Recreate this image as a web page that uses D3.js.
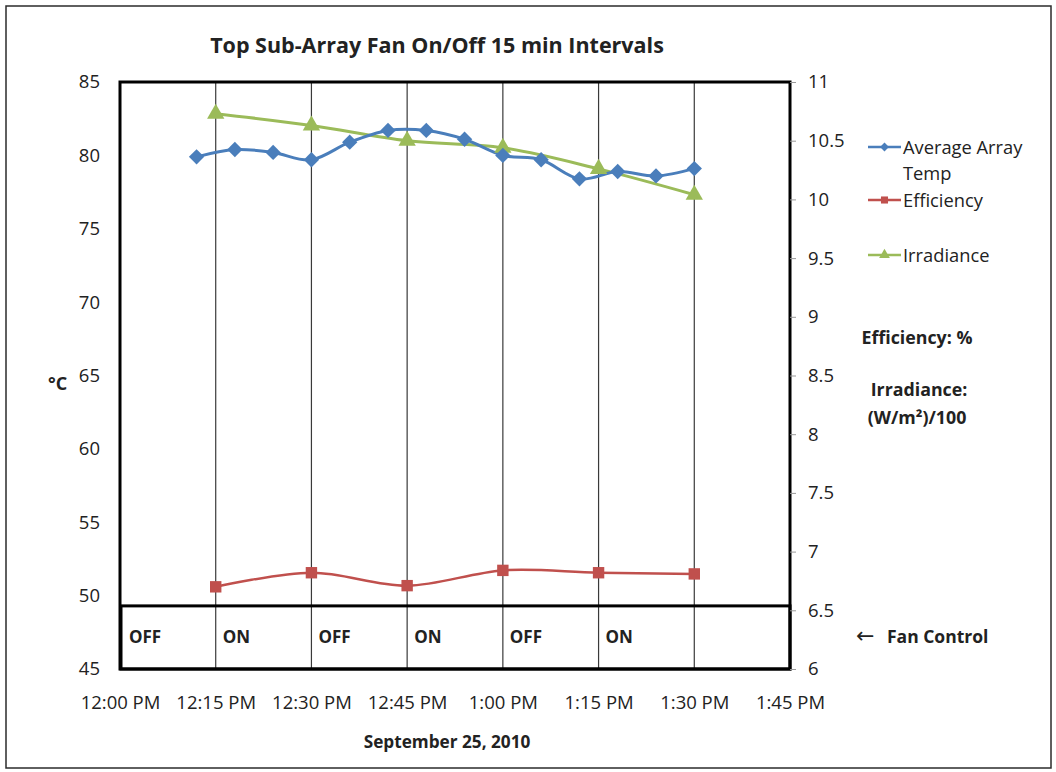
<!DOCTYPE html>
<html>
<head>
<meta charset="utf-8">
<script src="https://cdn.jsdelivr.net/npm/d3@7/dist/d3.min.js"></script>
<style>
  html, body { margin: 0; padding: 0; background: #fff; }
  svg text { font-family: "Open Sans", sans-serif; fill: #222; }
</style>
</head>
<body>
<svg id="chart" width="1056" height="772"></svg>
<script>
// ---- data -------------------------------------------------------------
const tempTimes = ["12:12", "12:18", "12:24", "12:30", "12:36", "12:42", "12:48",
                   "12:54", "13:00", "13:06", "13:12", "13:18", "13:24", "13:30"];
const tempValues = [79.9, 80.4, 80.2, 79.7, 80.9, 81.7, 81.7,
                    81.1, 80.0, 79.7, 78.4, 78.9, 78.6, 79.1];

const hourlyTimes = ["12:15", "12:30", "12:45", "13:00", "13:15", "13:30"];
const efficiencyValues = [6.70, 6.82, 6.71, 6.84, 6.82, 6.81];
const irradianceValues = [10.73, 10.63, 10.50, 10.44, 10.26, 10.04];

const xTickTimes = ["12:00", "12:15", "12:30", "12:45", "13:00", "13:15", "13:30", "13:45"];
const xTickLabels = ["12:00 PM", "12:15 PM", "12:30 PM", "12:45 PM", "1:00 PM", "1:15 PM", "1:30 PM", "1:45 PM"];
const leftTicks = [45, 50, 55, 60, 65, 70, 75, 80, 85];
const rightTicks = [6, 6.5, 7, 7.5, 8, 8.5, 9, 9.5, 10, 10.5, 11];

// fan control periods (start time, state)
const fanStarts = ["12:00", "12:15", "12:30", "12:45", "13:00", "13:15"];
const fanStates = ["OFF", "ON", "OFF", "ON", "OFF", "ON"];
const fanBandTop = 49.3;   // top of the fan-control band, in °C units

const seriesNames = ["Average Array Temp", "Efficiency", "Irradiance"];
const seriesColors = ["#4A7EBB", "#C0504D", "#9BBB59"];

// ---- helpers ----------------------------------------------------------
const t = s => { const [h, m] = s.split(":").map(Number); return new Date(2010, 8, 25, h, m); };

const svg = d3.select("#chart");

const plot = { left: 120, right: 790, top: 82, bottom: 669 };

const x = d3.scaleTime().domain([t("12:00"), t("13:45")]).range([plot.left, plot.right]);
const yL = d3.scaleLinear().domain([45, 85]).range([plot.bottom, plot.top]);
const yR = d3.scaleLinear().domain([6, 11]).range([plot.bottom, plot.top]);

// outer frame
svg.append("rect").attr("x", 6).attr("y", 6).attr("width", 1045).attr("height", 762)
  .attr("fill", "none").attr("stroke", "#2b2b2b").attr("stroke-width", 1.5);

// title
svg.append("text").attr("x", 437).attr("y", 53).attr("text-anchor", "middle")
  .style("font-weight", "bold").style("font-size", "21.5px")
  .text("Top Sub-Array Fan On/Off 15 min Intervals");

// vertical grid lines at each 15 min
svg.append("g").selectAll("line").data(xTickTimes.slice(1, -1)).join("line")
  .attr("x1", d => x(t(d))).attr("x2", d => x(t(d)))
  .attr("y1", plot.top).attr("y2", plot.bottom)
  .attr("stroke", "#3a3a3a").attr("stroke-width", 1.2);

// fan control band
const fanBand = svg.append("g");
fanBand.append("rect")
  .attr("x", plot.left + 1).attr("y", yL(fanBandTop))
  .attr("width", plot.right - plot.left - 1).attr("height", yL(45) - yL(fanBandTop))
  .attr("fill", "none").attr("stroke", "#000").attr("stroke-width", 3);
fanBand.selectAll("text").data(fanStarts).join("text")
  .attr("x", (d, i) => x(t(d)) + (i === 0 ? 9 : 7))
  .attr("y", 643)
  .style("font-weight", "bold").style("font-size", "17px")
  .text((d, i) => fanStates[i]);

// plot frame (thick black border)
svg.append("rect").attr("x", plot.left).attr("y", plot.top)
  .attr("width", plot.right - plot.left).attr("height", plot.bottom - plot.top)
  .attr("fill", "none").attr("stroke", "#000").attr("stroke-width", 3);

// left axis
const axL = svg.append("g").attr("transform", `translate(${plot.left},0)`)
  .call(d3.axisLeft(yL).tickValues(leftTicks).tickSize(0).tickPadding(20));
axL.select(".domain").remove();
axL.selectAll("text").style("font-size", "18.5px").style("font-family", "Open Sans").attr("fill", "#222");

// right axis
const axR = svg.append("g").attr("transform", `translate(${plot.right},0)`)
  .call(d3.axisRight(yR).tickValues(rightTicks).tickSize(6).tickPadding(12)
        .tickFormat(d3.format("~g")));
axR.select(".domain").remove();
axR.selectAll("line").attr("stroke", "#999");
axR.selectAll("text").style("font-size", "18.5px").style("font-family", "Open Sans").attr("fill", "#222");

// bottom axis labels
const axB = svg.append("g").attr("transform", `translate(0,${plot.bottom})`)
  .call(d3.axisBottom(x).tickValues(xTickTimes.map(t)).tickSize(0).tickPadding(27)
        .tickFormat((d, i) => xTickLabels[i]));
axB.select(".domain").remove();
axB.selectAll("text").style("font-size", "18.5px").style("font-family", "Open Sans").attr("fill", "#222");

// axis titles
svg.append("text").attr("x", 48).attr("y", 390)
  .style("font-weight", "bold").style("font-size", "18px").text("°C");
svg.append("text").attr("x", 447).attr("y", 748).attr("text-anchor", "middle")
  .style("font-weight", "bold").style("font-size", "17.2px").text("September 25, 2010");

// series lines
const smooth = d3.curveCatmullRom.alpha(0);
const tempData = tempTimes.map((d, i) => ({ x: t(d), y: tempValues[i] }));
const effData = hourlyTimes.map((d, i) => ({ x: t(d), y: efficiencyValues[i] }));
const irrData = hourlyTimes.map((d, i) => ({ x: t(d), y: irradianceValues[i] }));

const lineL = d3.line().x(d => x(d.x)).y(d => yL(d.y)).curve(smooth);
const lineR = d3.line().x(d => x(d.x)).y(d => yR(d.y)).curve(smooth);

svg.append("path").datum(effData).attr("d", lineR)
  .attr("fill", "none").attr("stroke", seriesColors[1]).attr("stroke-width", 2.5);
svg.append("path").datum(irrData).attr("d", lineR)
  .attr("fill", "none").attr("stroke", seriesColors[2]).attr("stroke-width", 3);
svg.append("path").datum(tempData).attr("d", lineL)
  .attr("fill", "none").attr("stroke", seriesColors[0]).attr("stroke-width", 3);

// markers
const diamond = d3.symbol().type(d3.symbolDiamond2).size(150);
const square = d3.symbol().type(d3.symbolSquare).size(130);
const triangle = d3.symbol().type(d3.symbolTriangle).size(130);

svg.append("g").selectAll("path").data(effData).join("path")
  .attr("d", square).attr("transform", d => `translate(${x(d.x)},${yR(d.y)})`)
  .attr("fill", seriesColors[1]);
svg.append("g").selectAll("path").data(irrData).join("path")
  .attr("d", triangle).attr("transform", d => `translate(${x(d.x)},${yR(d.y)})`)
  .attr("fill", seriesColors[2]);
svg.append("g").selectAll("path").data(tempData).join("path")
  .attr("d", diamond).attr("transform", d => `translate(${x(d.x)},${yL(d.y)})`)
  .attr("fill", seriesColors[0]);

// legend
const legend = svg.append("g").attr("transform", "translate(868,0)");
const legendRows = [
  { y: 148, lines: ["Average Array", "Temp"], sym: d3.symbol().type(d3.symbolDiamond2).size(50) },
  { y: 201, lines: ["Efficiency"], sym: d3.symbol().type(d3.symbolSquare).size(50) },
  { y: 256, lines: ["Irradiance"], sym: d3.symbol().type(d3.symbolTriangle).size(50) }
];
legendRows.forEach((r, i) => {
  const g = legend.append("g");
  g.append("line").attr("x1", 0).attr("x2", 33).attr("y1", r.y - 1).attr("y2", r.y - 1)
    .attr("stroke", seriesColors[i]).attr("stroke-width", 2.5);
  g.append("path").attr("d", r.sym).attr("transform", `translate(16.5,${r.y - 1})`)
    .attr("fill", seriesColors[i]);
  r.lines.forEach((s, j) => {
    g.append("text").attr("x", 35).attr("y", r.y + 6 + j * 26)
      .style("font-size", "18.3px").text(s);
  });
});

// unit notes
svg.append("text").attr("x", 917).attr("y", 344).attr("text-anchor", "middle")
  .style("font-weight", "bold").style("font-size", "17.8px").text("Efficiency: %");
svg.append("text").attr("x", 919).attr("y", 396).attr("text-anchor", "middle")
  .style("font-weight", "bold").style("font-size", "17.8px").text("Irradiance:");
svg.append("text").attr("x", 917).attr("y", 424).attr("text-anchor", "middle")
  .style("font-weight", "bold").style("font-size", "17.8px").text("(W/m²)/100");

// fan control pointer
svg.append("text").attr("x", 856).attr("y", 643)
  .style("font-size", "22px").style("font-family", "DejaVu Sans").attr("fill", "#333").text("←");
svg.append("text").attr("x", 887).attr("y", 643)
  .style("font-weight", "bold").style("font-size", "17.5px").text("Fan Control");
</script>
</body>
</html>
